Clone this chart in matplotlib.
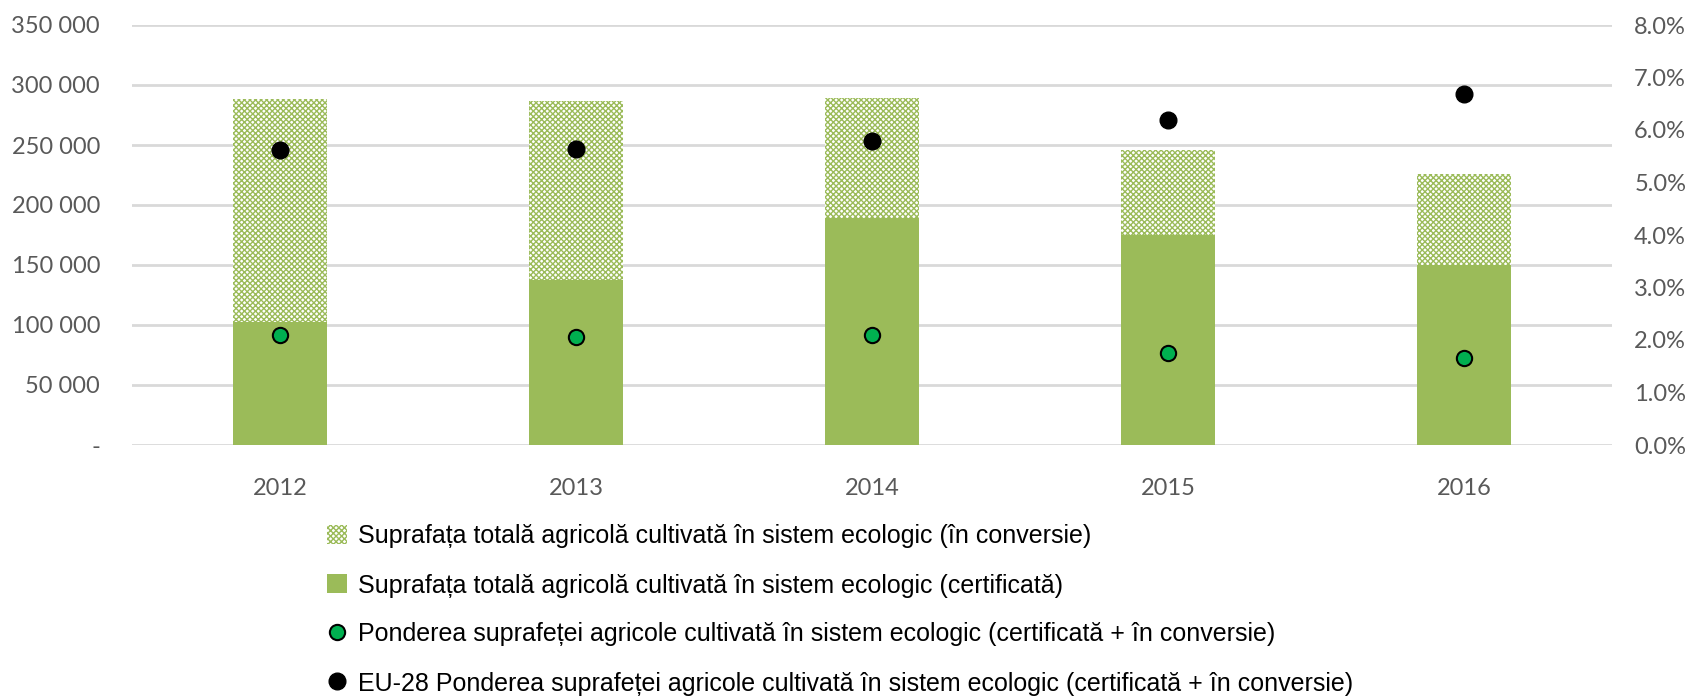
import numpy as np
import matplotlib
matplotlib.use('Agg')
import matplotlib.pyplot as plt
from matplotlib import font_manager
from matplotlib.patches import Patch
from matplotlib.lines import Line2D
from matplotlib.ticker import FuncFormatter, MultipleLocator

years = ['2012', '2013', '2014', '2015', '2016']
certificata = [102700, 137500, 189400, 175000, 150000]
total = [288300, 286900, 288900, 245800, 225500]
pondere_ro = [2.10, 2.05, 2.10, 1.76, 1.66]
pondere_eu = [5.62, 5.63, 5.79, 6.19, 6.68]

labels = [
    'Suprafața totală agricolă cultivată în sistem ecologic (în conversie)',
    'Suprafața totală agricolă cultivată în sistem ecologic (certificată)',
    'Ponderea suprafeței agricole cultivată în sistem ecologic (certificată + în conversie)',
    'EU-28 Ponderea suprafeței agricole cultivată în sistem ecologic (certificată + în conversie)',
]

names = {f.name for f in font_manager.fontManager.ttflist}
tick_font = 'Lato' if 'Lato' in names else 'DejaVu Sans'
legend_font = 'Liberation Sans Narrow' if 'Liberation Sans Narrow' in names else 'Liberation Sans'

green = '#9BBB59'
grey = '#595959'

fig = plt.figure(figsize=(16.94, 7.0), dpi=100)
ax = fig.add_axes([132 / 1694, 1 - 445 / 700, 1480 / 1694, 420 / 700])

x = np.arange(len(years))
conversie = np.array(total) - np.array(certificata)
ax.bar(x, certificata, width=0.315, color=green, zorder=2)
ax.bar(x, conversie, bottom=certificata, width=0.315, facecolor='white',
       edgecolor=green, linewidth=0, hatch='xxxxxx', zorder=2)

ax.set_xlim(-0.5, len(years) - 0.5)
ax.set_ylim(0, 350000)
ax.yaxis.set_major_locator(MultipleLocator(50000))
ax.yaxis.set_major_formatter(FuncFormatter(
    lambda v, p: '-' if v == 0 else f'{int(v):,}'.replace(',', ' ')))
ax.set_xticks(x)
ax.set_xticklabels(years)
ax.grid(axis='y', color='#D9D9D9', linewidth=2, zorder=0)
ax.set_axisbelow(True)
for s in ax.spines.values():
    s.set_visible(False)
ax.tick_params(axis='y', length=0, pad=23, labelsize=17, labelcolor=grey)
ax.tick_params(axis='x', length=0, pad=24, labelsize=17, labelcolor=grey)

ax2 = ax.twinx()
ax2.set_ylim(0, 8)
ax2.yaxis.set_major_locator(MultipleLocator(1))
ax2.yaxis.set_major_formatter(FuncFormatter(lambda v, p: f'{v:.1f}%'))
for s in ax2.spines.values():
    s.set_visible(False)
ax2.tick_params(axis='y', length=0, pad=16, labelsize=17, labelcolor=grey)
ax2.plot(x, pondere_ro, 'o', color='#00B050', markeredgecolor='black',
         markeredgewidth=1.5, markersize=11, zorder=3)
ax2.plot(x, pondere_eu, 'o', color='black', markersize=12, zorder=3)

for lab in ax.get_xticklabels() + ax.get_yticklabels() + ax2.get_yticklabels():
    lab.set_fontfamily(tick_font)

handles = [
    Patch(facecolor='white', edgecolor=green, linewidth=0, hatch='xxxxxx'),
    Patch(facecolor=green),
    Line2D([], [], marker='o', linestyle='', color='#00B050', markeredgecolor='black',
           markeredgewidth=1.5, markersize=11),
    Line2D([], [], marker='o', linestyle='', color='black', markersize=12),
]
fig.legend(handles, labels, loc='upper left', bbox_to_anchor=(314 / 1694, 1 - 512 / 700),
           frameon=False, prop={'family': legend_font, 'size': 18},
           handlelength=0.8, handleheight=0.8, handletextpad=0.45, labelspacing=1.0,
           borderpad=0)

fig.savefig('out.png', dpi=100)
